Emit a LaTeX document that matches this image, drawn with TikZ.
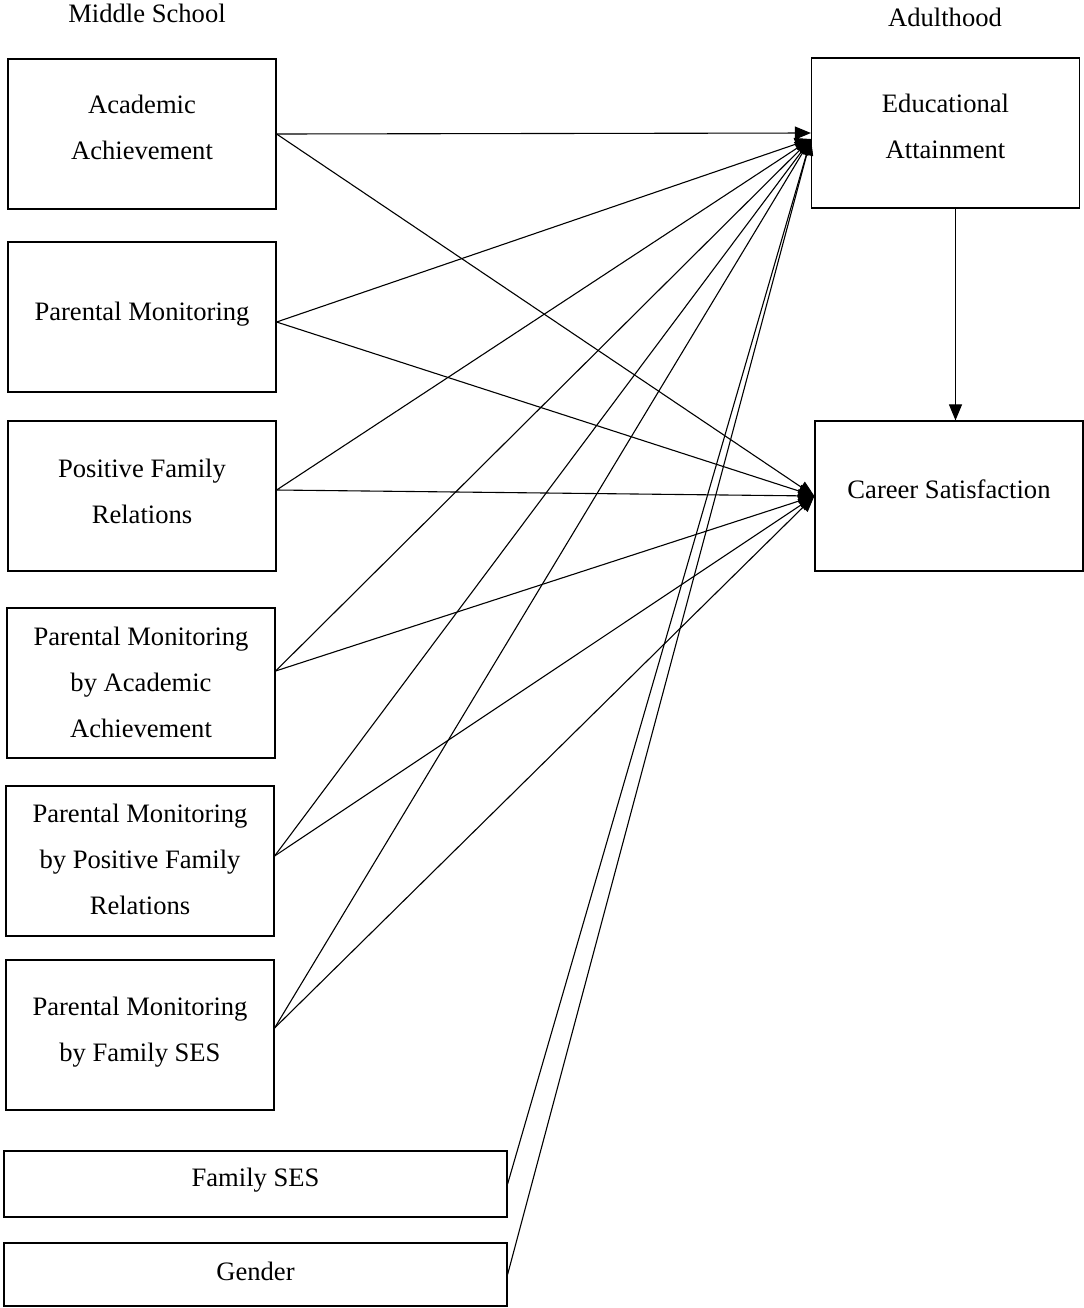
\documentclass[tikz,border=0pt]{standalone}
\usepackage{fontspec}
\setmainfont{Liberation Serif}
\usetikzlibrary{arrows.meta}

\tikzset{
  varbox/.style={draw, line width=0.6pt, minimum width=134pt, minimum height=75pt,
    inner sep=0pt, align=center, font=\fontsize{13.3pt}{23pt}\selectfont},
  widebox/.style={varbox, minimum width=251.5pt, minimum height=33pt},
  period/.style={font=\fontsize{13.3pt}{15pt}\selectfont},
  path/.style={line width=0.55pt, -{Triangle[length=8pt,width=6.5pt]}}
}

\begin{document}
\begin{tikzpicture}[x=0.5pt,y=-0.5pt]
\path[use as bounding box] (0,0) rectangle (1083,1308);
% time labels
\node[period] (mslabel) at (147,13) {Middle School};
\node[period] (adlabel) at (945,17) {Adulthood};
% middle school measures
\node[varbox, text depth=7pt] (acad) at (142,134) {Academic\\Achievement};
\node[varbox, text depth=5.9pt] (monit) at (142,317) {Parental Monitoring};
\node[varbox, text depth=5pt] (famrel) at (142,496) {Positive Family\\Relations};
\node[varbox, text depth=1pt] (monacad) at (141,683) {Parental Monitoring\\by Academic\\Achievement};
\node[varbox, text depth=2pt] (monfam) at (140,861) {Parental Monitoring\\by Positive Family\\Relations};
\node[varbox, text depth=5.9pt] (monses) at (140,1035) {Parental Monitoring\\by Family SES};
\node[widebox, text depth=6.9pt] (ses) at (255.5,1184) {Family SES};
\node[widebox, minimum height=31.5pt, text depth=3pt] (gender) at (255.5,1274.5) {Gender};
% adult outcomes
\node[varbox, text depth=7pt] (educ) at (945.5,133) {Educational\\Attainment};
\node[varbox, text depth=7pt] (career) at (949,496) {Career Satisfaction};
\coordinate (educ in) at ([yshift=-3pt]educ.west);
% paths
\draw[path] (acad.east) -- (educ.west);
\draw[path] (acad.east) -- (career.west);
\foreach \src/\dy in {monit/-2.5,famrel/3,monacad/6,monfam/2.5,monses/3.5}{
  \coordinate (\src out) at ([yshift=\dy pt]\src.east);
  \draw[path] (\src out) -- (educ in);
  \draw[path] (\src out) -- (career.west);
}
\draw[path] (ses.east) -- (educ in);
\draw[path] (gender.east) -- (educ in);
\draw[path] ([xshift=5pt]educ.south) -- ([xshift=5pt]educ.south |- career.north);
\end{tikzpicture}
\end{document}
